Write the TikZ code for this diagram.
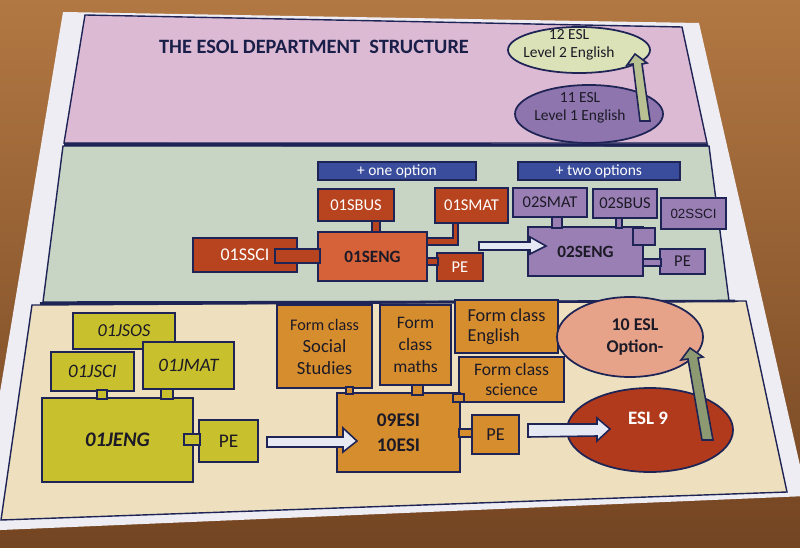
\documentclass[tikz,border=0pt]{standalone}
\usepackage{fontspec}
\setmainfont{Carlito}
\newfontfamily\arialfam{Liberation Sans}
\usetikzlibrary{shapes.geometric}
\definecolor{woodlight}{HTML}{B27843}
\definecolor{wooddark}{HTML}{744522}
\definecolor{paper}{HTML}{EEEDF4}
\definecolor{navy}{HTML}{1E2456}
\definecolor{pinkbg}{HTML}{DDBAD3}
\definecolor{greenbg}{HTML}{C9D5C4}
\definecolor{beigebg}{HTML}{EEE0BE}
\definecolor{barblue}{HTML}{3A4C9C}
\definecolor{redbox}{HTML}{B8441F}
\definecolor{redlight}{HTML}{D6623A}
\definecolor{purp}{HTML}{9A7FB4}
\definecolor{yel}{HTML}{C8C02C}
\definecolor{orng}{HTML}{D68D2E}
\definecolor{eslnine}{HTML}{B23A1C}
\definecolor{eslten}{HTML}{E7A38A}
\definecolor{esltw}{HTML}{DCE2B8}
\definecolor{eslel}{HTML}{8E75AE}
\definecolor{arrgreen}{HTML}{B9C192}
\definecolor{arrgreend}{HTML}{8D9970}
\definecolor{arrwhite}{HTML}{E6E8F4}
\definecolor{darktext}{HTML}{1C1A26}

\newcommand\Rbx[7]{%
 \pgfmathsetmacro\rbxw{(#4-#2)*0.02}%
 \pgfmathsetmacro\rbxh{(#5-#3)*0.02}%
 \node[box,#6,minimum width=\rbxw cm,minimum height=\rbxh cm] (#1) at ({(#2+#4)/2},{(#3+#5)/2}) {#7};}
\newcommand\Elp[6]{%
 \pgfmathsetmacro\rbxw{2*#4*0.02}%
 \pgfmathsetmacro\rbxh{2*#5*0.02}%
 \node[elp,#6,minimum width=\rbxw cm,minimum height=\rbxh cm] (#1) at (#2,#3) {};}
\newcommand\Stb[5]{\filldraw[stub,fill=#5] (#1,#2) rectangle (#3,#4);}

\begin{document}
\begin{tikzpicture}[x=0.02cm,y=-0.02cm,
  box/.style={draw=navy,line width=1pt,inner sep=0pt,outer sep=0pt,align=center},
  elp/.style={ellipse,draw=navy,line width=1pt,inner sep=0pt,outer sep=0pt},
  stub/.style={draw=navy,line width=0.9pt},
  bar/.style={fill=barblue,text=white,draw=navy,line width=0.8pt,font=\fontsize{8.8}{10}\selectfont},
  redb/.style={fill=redbox,text=white,font=\fontsize{9.4}{11}\selectfont},
  purb/.style={fill=purp,text=darktext,font=\fontsize{9.4}{11}\selectfont},
  yelb/.style={fill=yel,text=darktext,font=\fontsize{10.8}{13}\selectfont\itshape},
  orb/.style={fill=orng,text=darktext,font=\fontsize{10}{12.5}\selectfont},
  blockarr/.style={draw=navy,line width=0.9pt},
  ]
\useasboundingbox (0,0) rectangle (800,547);
% background
\shade[top color=woodlight,bottom color=wooddark] (0,0) rectangle (800,547);
\fill[paper] (63,12) -- (699,23) -- (807,496) -- (-23,531) -- cycle;
% panels
\filldraw[fill=pinkbg,draw=navy,line width=0.8pt] (85,15) -- (682,27) -- (707,143) -- (64,143) -- cycle;
\filldraw[fill=greenbg,draw=navy,line width=0.8pt] (63,146) -- (709,146) -- (729,301) -- (43,302) -- cycle;
\filldraw[fill=beigebg,draw=navy,line width=0.8pt] (32,305) -- (746,301) -- (787,492) -- (1,520) -- cycle;
\draw[navy,line width=1.8pt] (64,144.5) -- (708,145);
\draw[navy,line width=1.5pt] (40,303.5) -- (735,301);

% ---------- pink band ----------
\node[font=\fontsize{11.6}{13}\selectfont\bfseries,text=navy!85!black] (title) at (314,47) {THE ESOL DEPARTMENT\ \ STRUCTURE};
\Elp{twelve}{579}{50}{71}{23}{fill=esltw}
\node[font=\fontsize{8.8}{10.5}\selectfont,text=darktext,align=center] (twelvet) at (569,45) {12 ESL\\Level 2 English};
\Elp{eleven}{589}{114}{74}{29}{fill=eslel}
\node[font=\fontsize{8.8}{10.5}\selectfont,text=darktext,align=center] (elevent) at (580,108) {11 ESL\\Level 1 English};
\filldraw[blockarr,fill=arrgreen] (640,121) -- (633,64) -- (627,65) -- (635,54) -- (647,63) -- (642,64) -- (650,121) -- cycle;

% ---------- green band ----------
\Rbx{oneopt}{318}{162}{476}{180}{bar}{+ one option}
\Rbx{twoopt}{518}{162}{680}{180}{bar}{+ two options}
\Rbx{sbus}{318}{189}{394}{221}{redb}{01SBUS}
\Rbx{smat}{435}{188}{508}{223}{redb}{01SMAT}
\Rbx{ssci}{193}{238}{297}{272}{redb,font=\fontsize{10.2}{12}\selectfont}{01SSCI}
\Rbx{seng}{318}{232}{427}{281}{fill=redlight,text=darktext,font=\fontsize{9.8}{11}\selectfont\bfseries}{01SENG}
\Rbx{spe}{437}{253}{483}{281}{redb}{PE}
\Stb{275}{249}{320}{263}{redbox}
\Stb{372}{221}{380}{232}{redbox}
\filldraw[stub,fill=redbox] (453,223) -- (458,223) -- (458,245) -- (427,245) -- (427,238) -- (453,238) -- cycle;
\Stb{427}{258}{438}{265}{redbox}

\Rbx{tseng}{528}{227}{643}{276}{fill=purp,text=darktext,font=\fontsize{9.8}{11}\selectfont\bfseries}{02SENG}
\Rbx{tsmat}{513}{188}{587}{217}{purb}{02SMAT}
\Rbx{tsbus}{593}{189}{657}{218}{purb}{02SBUS}
\Rbx{tssci}{661}{198}{726}{229}{purb,font=\fontsize{7.6}{9}\arialfam}{02SSCI}
\Rbx{tspe}{660}{249}{705}{274}{purb}{PE}
\Stb{633}{228}{655}{245}{purp}
\Stb{552}{217}{562}{228}{purp}
\Stb{616}{218}{622}{228}{purp}
\Stb{643}{259}{661}{266}{purp}
\filldraw[blockarr,fill=arrwhite] (479,242) -- (530,242) -- (530,237) -- (546,246) -- (530,254) -- (530,250) -- (479,250) -- cycle;

% ---------- beige band ----------
\Rbx{jsos}{73}{313}{175}{349}{yelb,font=\fontsize{10.4}{12}\selectfont\itshape}{01JSOS}
\Rbx{jsci}{51}{352}{134}{391}{yelb}{01JSCI}
\Rbx{jmat}{143}{342}{234}{389}{yelb}{01JMAT}
\Rbx{jeng}{42}{398}{193}{482}{yelb,font=\fontsize{11.8}{13}\selectfont\bfseries\itshape}{01JENG}
\Rbx{jpe}{199}{420}{258}{462}{yelb,font=\fontsize{11}{13}\selectfont}{PE}
\Stb{97}{390}{107}{399}{yel}
\Stb{161}{389}{173}{399}{yel}
\Stb{184}{434}{200}{445}{yel}

\Rbx{fsoc}{277}{305}{372}{388}{orb}{{\fontsize{9.2}{12.5}\selectfont Form class}\\{\fontsize{10.6}{12.5}\selectfont Social}\\{\fontsize{10.6}{12.5}\selectfont Studies}}
\Rbx{fmath}{380}{305}{451}{385}{orb}{Form\\class\\maths}
\Rbx{feng}{455}{300}{558}{353}{orb,font=\fontsize{10.4}{11.4}\selectfont,align=left}{Form class\\English\hspace{18pt}}
\Rbx{fsci}{459}{357}{564}{402}{orb,font=\fontsize{10}{11.6}\selectfont}{Form class\\science}
\Rbx{esi}{337}{393}{460}{472}{orb,font=\fontsize{11}{14}\selectfont\bfseries}{09ESI\\10ESI}
\Rbx{epe}{472}{415}{519}{454}{orb,font=\fontsize{10.4}{12}\selectfont}{PE}
\Stb{346}{387}{353}{394}{orng}
\Stb{412}{385}{423}{395}{orng}
\Stb{453}{394}{464}{402}{orng}
\Stb{459}{429}{472}{437}{orng}
\filldraw[blockarr,fill=arrwhite] (267,437) -- (343,437) -- (343,428) -- (357,441) -- (343,452) -- (343,447) -- (267,447) -- cycle;

\Elp{eslten}{630}{337}{73}{40}{fill=eslten}
\node[font=\fontsize{10.2}{12}\selectfont\bfseries,text=darktext,align=center] (eslttext) at (635,337) {10 ESL\\Option-};
\Elp{eslnine}{650}{430}{83}{42}{fill=eslnine}
\node[font=\fontsize{10.8}{12}\selectfont\bfseries,text=white] (eslntext) at (648,418) {ESL 9};

\filldraw[blockarr,fill=arrwhite] (528,424) -- (597,424) -- (597,418) -- (610,429) -- (597,441) -- (597,436) -- (528,437) -- cycle;
\filldraw[blockarr,fill=arrgreend] (702,440) -- (688,359) -- (681,360) -- (690,348) -- (703,357) -- (698,358) -- (713,440) -- cycle;
\end{tikzpicture}
\end{document}
